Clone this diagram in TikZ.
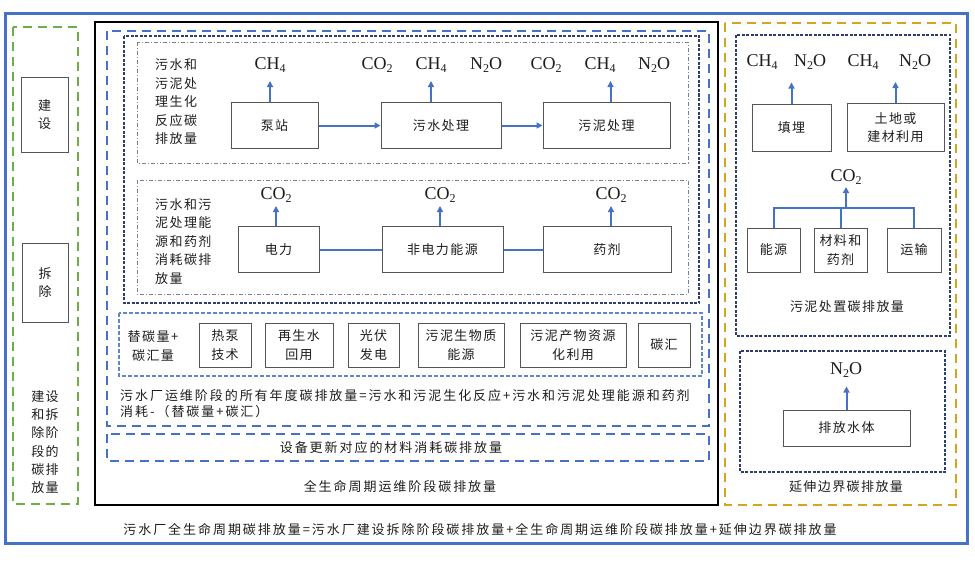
\documentclass[tikz,border=0pt]{standalone}
\usepackage{fontspec}
\setmainfont{Liberation Serif}
\newfontfamily\cjk[LetterSpace=11]{Noto Sans CJK SC}
\newfontfamily\cjkwide[LetterSpace=15]{Noto Sans CJK SC}
\usetikzlibrary{arrows.meta,calc}
\definecolor{oblue}{RGB}{68,114,196}
\definecolor{ogreen}{RGB}{112,173,71}
\definecolor{ogold}{RGB}{212,166,32}
\definecolor{navy}{RGB}{45,62,110}
\definecolor{rowgray}{RGB}{120,130,150}
\definecolor{lblue}{RGB}{95,135,205}
\definecolor{txt}{RGB}{30,30,30}
\definecolor{boxc}{RGB}{85,85,85}
\newcommand\gsub[1]{\raisebox{-0.4ex}{\fontsize{12}{12}\selectfont #1}}
\begin{document}
\begin{tikzpicture}[x=1pt,y=-1pt,
 cn/.style={font=\cjk\fontsize{13}{18.5}\selectfont, text=txt, inner sep=0pt},
 cnw/.style={font=\cjkwide\fontsize{13}{16.5}\selectfont, text=txt, inner sep=0pt},
 box/.style={cn, draw=boxc, line width=1pt, align=center},
 gas/.style={font=\fontsize{18}{18}\selectfont, text=txt, inner sep=0pt},
 garrow/.style={draw=oblue, line width=2pt, -{Triangle[width=6pt,length=6pt]}},
 gline/.style={draw=oblue, line width=2pt},
 bigdash/.style={line width=2.5pt, dash pattern=on 9pt off 6pt},
 navydash/.style={draw=navy, line width=1.4pt, dash pattern=on 3pt off 1.5pt},
 rowbox/.style={draw=rowgray, line width=1pt, dash pattern=on 4pt off 2pt on 1pt off 2pt},
 repbox/.style={draw=lblue, line width=1.4pt, dash pattern=on 4pt off 2pt},
 ]
\useasboundingbox (0,0) rectangle (975,562);
\fill[white] (0,0) rectangle (975,562);

% containers
\draw[oblue, line width=3pt] (5,13) rectangle (967,543);
\draw[ogreen, bigdash] (13,27) rectangle (78,504);
\draw[black, line width=2.5pt] (95,22) rectangle (718,505);
\draw[ogold, bigdash] (725,23) rectangle (956,505);
\draw[oblue, bigdash] (107,31) rectangle (709,426);
\draw[oblue, bigdash] (107,434) rectangle (709,461);
\draw[navydash] (124,36) rectangle (699,303);
\draw[rowbox] (137,42) rectangle (688,163);
\draw[rowbox] (137,180) rectangle (688,294);
\draw[repbox] (119,313) rectangle (702,376);
\draw[navydash] (736,35) rectangle (950,336);
\draw[navydash] (740,351) rectangle (945,472);

% construction / demolition
\node[box, minimum width=47pt, minimum height=75pt] (build) at (44.5,114.5) {建\\设};
\node[box, minimum width=46pt, minimum height=79pt] (demol) at (45,282.5) {拆\\除};
\node[cn, align=center, font=\cjk\fontsize{13}{18.2}\selectfont] (bdlabel) at (45,442) {建设\\和拆\\除阶\\段的\\碳排\\放量};

% row 1
\node[cn, align=left, anchor=west] (r1label) at (155,102) {污水和\\污泥处\\理生化\\反应碳\\排放量};
\node[box, minimum width=87pt, minimum height=46pt] (pump) at (274.5,125.5) {泵站};
\node[box, minimum width=120pt, minimum height=46pt] (ws) at (441,125.5) {污水处理};
\node[box, minimum width=127pt, minimum height=46pt] (ss) at (606.5,125.5) {污泥处理};
\draw[garrow] (pump) -- (ws);
\draw[garrow] (ws) -- (ss);
\node[gas] (g1) at (270,65) {CH\gsub{4}};
\node[gas] (g2) at (377,65) {CO\gsub{2}};
\node[gas] (g3) at (431,65) {CH\gsub{4}};
\node[gas] (g4) at (486,65) {N\gsub{2}O};
\node[gas] (g5) at (546,65) {CO\gsub{2}};
\node[gas] (g6) at (600,65) {CH\gsub{4}};
\node[gas] (g7) at (654,65) {N\gsub{2}O};
\draw[garrow] (pump.north -| g1) -- ++(0,-21);
\draw[garrow] (ws.north -| g3) -- ++(0,-21);
\draw[garrow] ($(ss.north)+(4,0)$) -- ++(0,-21);

% row 2
\node[cn, align=left, anchor=west] (r2label) at (155,241.5) {污水和污\\泥处理能\\源和药剂\\消耗碳排\\放量};
\node[box, minimum width=81pt, minimum height=46pt] (ele) at (278.5,249.5) {电力};
\node[box, minimum width=121pt, minimum height=46pt] (nonele) at (442.5,249.5) {非电力能源};
\node[box, minimum width=128pt, minimum height=46pt] (chem) at (607,249.5) {药剂};
\draw[gline] (ele) -- (nonele);
\draw[gline] (nonele) -- (chem);
\node[gas] (h1) at (276,195) {CO\gsub{2}};
\node[gas] (h2) at (440,195) {CO\gsub{2}};
\node[gas] (h3) at (611,195) {CO\gsub{2}};
\draw[garrow] (ele.north -| h1) -- ++(0,-20);
\draw[garrow] (nonele.north -| h2) -- ++(0,-20);
\draw[garrow] (chem.north -| h3) -- ++(0,-20);

% replacement
\node[cn, align=center] (replabel) at (153,346) {替碳量+\\碳汇量};
\node[box, minimum width=52pt, minimum height=44pt] (heat) at (225,345) {热泵\\技术};
\node[box, minimum width=68pt, minimum height=44pt] (reuse) at (299,345) {再生水\\回用};
\node[box, minimum width=51pt, minimum height=44pt] (pv) at (373.5,345) {光伏\\发电};
\node[box, minimum width=86pt, minimum height=44pt] (bio) at (461,345) {污泥生物质\\能源};
\node[box, minimum width=106pt, minimum height=44pt] (res) at (573,345) {污泥产物资源\\化利用};
\node[box, minimum width=52pt, minimum height=44pt] (sink) at (664,345) {碳汇};

\node[cnw, align=left, anchor=north west] (opformula) at (120,389) {污水厂运维阶段的所有年度碳排放量=污水和污泥生化反应+污水和污泥处理能源和药剂\\消耗-（替碳量+碳汇）};
\node[cnw] (equip) at (391,448) {设备更新对应的材料消耗碳排放量};
\node[cnw] (lifeops) at (400,487) {全生命周期运维阶段碳排放量};
\node[cnw] (total) at (480,530) {污水厂全生命周期碳排放量=污水厂建设拆除阶段碳排放量+全生命周期运维阶段碳排放量+延伸边界碳排放量};

% right: sludge disposal
\node[box, minimum width=79pt, minimum height=47pt] (land) at (791.5,127.5) {填埋};
\node[box, minimum width=97pt, minimum height=48pt] (use) at (895.5,127.5) {土地或\\建材利用};
\node[gas] (k1) at (762,62) {CH\gsub{4}};
\node[gas] (k2) at (810,62) {N\gsub{2}O};
\node[gas] (k3) at (863,62) {CH\gsub{4}};
\node[gas] (k4) at (915,62) {N\gsub{2}O};
\draw[garrow] (land.north) -- ++(0,-21);
\draw[garrow] (use.north) -- ++(0,-21);
\node[box, minimum width=53pt, minimum height=44pt] (en) at (773.5,250) {能源};
\node[box, minimum width=53pt, minimum height=44pt] (mat) at (840.5,250) {材料和\\药剂};
\node[box, minimum width=54pt, minimum height=44pt] (trans) at (914,250) {运输};
\node[gas] (k5) at (846,177) {CO\gsub{2}};
\coordinate (tj) at (846,208);
\draw[gline] (en.north) |- (tj) -| (trans.north);
\draw[gline] (mat.north) -- (mat.north |- tj);
\draw[garrow] (tj) -- ++(0,-21);
\node[cn] (sdlabel) at (847,307) {污泥处置碳排放量};

% receiving water
\node[box, minimum width=127pt, minimum height=36pt] (water) at (846.5,428) {排放水体};
\node[gas] (k6) at (846,370) {N\gsub{2}O};
\draw[garrow] (water.north) -- ++(0,-23);
\node[cn] (extlabel) at (846,487) {延伸边界碳排放量};
\end{tikzpicture}
\end{document}
